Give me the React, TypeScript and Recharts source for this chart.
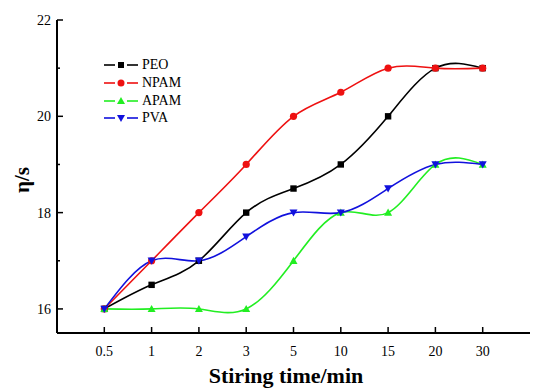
import React from 'react';
import { LineChart, Line, XAxis, YAxis } from 'recharts';

const categories = ['0.5', '1', '2', '3', '5', '10', '15', '20', '30'];
const peo = [16, 16.5, 17, 18, 18.5, 19, 20, 21, 21];
const npam = [16, 17, 18, 19, 20, 20.5, 21, 21, 21];
const apam = [16, 16, 16, 16, 17, 18, 18, 19, 19];
const pva = [16, 17, 17, 17.5, 18, 18, 18.5, 19, 19];
const yTicks = [16, 17, 18, 19, 20, 21, 22];
const xTicks = categories.map((_, i) => i + 1);

const data = categories.map((c, i) => ({
  idx: i + 1,
  label: c,
  PEO: peo[i],
  NPAM: npam[i],
  APAM: apam[i],
  PVA: pva[i],
}));

const C_PEO = '#000000';
const C_NPAM = '#ee1111';
const C_APAM = '#22ee22';
const C_PVA = '#1111dd';
const FONT = '"Liberation Serif", "Times New Roman", serif';

const SquareDot = (p: any) => {
  const { cx, cy, index } = p;
  if (cx == null || cy == null) return <g key={`s${index}`} />;
  return <rect key={`s${index}`} x={cx - 3.2} y={cy - 3.2} width={6.4} height={6.4} fill={C_PEO} />;
};
const CircleDot = (p: any) => {
  const { cx, cy, index } = p;
  if (cx == null || cy == null) return <g key={`c${index}`} />;
  return <circle key={`c${index}`} cx={cx} cy={cy} r={3.6} fill={C_NPAM} />;
};
const UpDot = (p: any) => {
  const { cx, cy, index } = p;
  if (cx == null || cy == null) return <g key={`u${index}`} />;
  return <path key={`u${index}`} d={`M${cx - 4},${cy + 3.2}L${cx + 4},${cy + 3.2}L${cx},${cy - 4}Z`} fill={C_APAM} />;
};
const DownDot = (p: any) => {
  const { cx, cy, index } = p;
  if (cx == null || cy == null) return <g key={`d${index}`} />;
  return <path key={`d${index}`} d={`M${cx - 4},${cy - 3.2}L${cx + 4},${cy - 3.2}L${cx},${cy + 4}Z`} fill={C_PVA} />;
};

const YTick = (p: any) => {
  const { x, y, payload } = p;
  const v = payload.value;
  const major = v % 2 === 0;
  const ax = x + 6;
  return (
    <g>
      <line x1={ax} x2={ax + (major ? 6 : 3)} y1={y} y2={y} stroke="#000" strokeWidth={1.5} />
      {major && (
        <text x={x} y={y} dy="0.35em" textAnchor="end" fontFamily={FONT} fontSize={14} fill="#000">
          {v}
        </text>
      )}
    </g>
  );
};

const XTick = (p: any) => {
  const { x, y, payload } = p;
  const lab = categories[payload.value - 1];
  return (
    <g>
      <line x1={x} x2={x} y1={y} y2={y - 6} stroke="#000" strokeWidth={1.5} />
      <text x={x} y={y + 23} textAnchor="middle" fontFamily={FONT} fontSize={14} fill="#000">
        {lab}
      </text>
    </g>
  );
};

const legendItems = [
  { name: 'PEO', color: C_PEO, shape: 'square' },
  { name: 'NPAM', color: C_NPAM, shape: 'circle' },
  { name: 'APAM', color: C_APAM, shape: 'up' },
  { name: 'PVA', color: C_PVA, shape: 'down' },
];

const LegendIcon = ({ color, shape }: { color: string; shape: string }) => {
  const cx = 17;
  const cy = 9;
  let marker: React.ReactNode = null;
  if (shape === 'square') marker = <rect x={cx - 3} y={cy - 3} width={6} height={6} fill={color} />;
  if (shape === 'circle') marker = <circle cx={cx} cy={cy} r={3.5} fill={color} />;
  if (shape === 'up') marker = <path d={`M${cx - 4},${cy + 3}L${cx + 4},${cy + 3}L${cx},${cy - 4}Z`} fill={color} />;
  if (shape === 'down') marker = <path d={`M${cx - 4},${cy - 3}L${cx + 4},${cy - 3}L${cx},${cy + 4}Z`} fill={color} />;
  return (
    <svg width={34} height={18} style={{ display: 'block' }}>
      <line x1={0} x2={11} y1={cy} y2={cy} stroke={color} strokeWidth={1.6} />
      <line x1={23} x2={34} y1={cy} y2={cy} stroke={color} strokeWidth={1.6} />
      {marker}
    </svg>
  );
};

const CustomLegend = () => (
  <div style={{ fontFamily: FONT, fontSize: 14, color: '#000' }}>
    {legendItems.map((it) => (
      <div key={it.name} style={{ display: 'flex', alignItems: 'center', height: 17.8 }}>
        <LegendIcon color={it.color} shape={it.shape} />
        <span style={{ marginLeft: 4, lineHeight: '17.8px' }}>{it.name}</span>
      </div>
    ))}
  </div>
);

export default function App() {
  return (
    <div style={{ width: 534, height: 381, position: 'relative', background: '#fff' }}>
      <LineChart
        width={534}
        height={381}
        data={data}
        margin={{ top: 12, right: 12, bottom: 0, left: 0 }}
      >
        <XAxis
          dataKey="idx"
          type="number"
          domain={[0, 10]}
          ticks={xTicks}
          interval={0}
          height={56}
          tickSize={0}
          tickMargin={0}
          tickLine={false}
          tick={<XTick />}
          axisLine={{ stroke: '#000', strokeWidth: 2 }}
          label={{
            content: () => (
              <text x={278} y={375} textAnchor="middle" fontFamily={FONT} fontSize={22} fontWeight="bold" fill="#000">
                Stiring time/min
              </text>
            ),
          }}
        />
        <XAxis
          xAxisId="top"
          orientation="top"
          dataKey="idx"
          type="number"
          domain={[0, 10]}
          height={0}
          tick={false}
          tickLine={false}
          axisLine={{ stroke: '#000', strokeWidth: 2 }}
        />
        <YAxis
          domain={[15.5, 22]}
          ticks={yTicks}
          interval={0}
          width={49}
          tickSize={0}
          tickMargin={6}
          tickLine={false}
          tick={<YTick />}
          axisLine={{ stroke: '#000', strokeWidth: 2 }}
          label={{
            content: () => (
              <text
                x={21}
                y={172}
                transform="rotate(-90, 21, 172)"
                textAnchor="middle"
                fontFamily={FONT}
                fontSize={21}
                fontWeight="bold"
                fill="#000"
              >
                η/s
              </text>
            ),
          }}
        />
        <YAxis
          yAxisId="right"
          orientation="right"
          domain={[15.5, 22]}
          width={0}
          tick={false}
          tickLine={false}
          axisLine={{ stroke: '#000', strokeWidth: 2 }}
        />
        <Line type="natural" dataKey="PEO" stroke={C_PEO} strokeWidth={1.6} dot={SquareDot} activeDot={false} isAnimationActive={false} />
        <Line type="natural" dataKey="NPAM" stroke={C_NPAM} strokeWidth={1.6} dot={CircleDot} activeDot={false} isAnimationActive={false} />
        <Line type="natural" dataKey="APAM" stroke={C_APAM} strokeWidth={1.6} dot={UpDot} activeDot={false} isAnimationActive={false} />
        <Line type="natural" dataKey="PVA" stroke={C_PVA} strokeWidth={1.6} dot={DownDot} activeDot={false} isAnimationActive={false} />
      </LineChart>
      <div style={{ position: 'absolute', left: 96, top: 48 }}>
        <CustomLegend />
      </div>
    </div>
  );
}
